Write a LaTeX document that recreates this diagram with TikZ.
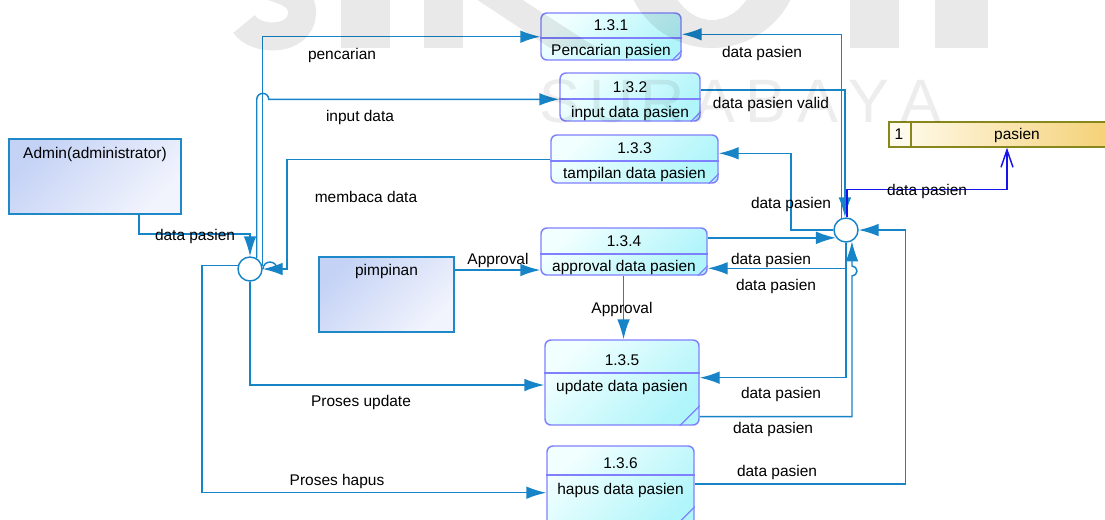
\documentclass[tikz,border=0pt]{standalone}
\usepackage{fontspec}
\setmainfont{Liberation Sans}
\usetikzlibrary{arrows.meta,fit}

\definecolor{flowblue}{RGB}{24,132,200}
\definecolor{dsblue}{RGB}{20,20,235}
\definecolor{procedge}{RGB}{128,128,255}
\definecolor{proctop}{RGB}{242,255,255}
\definecolor{procbot}{RGB}{176,245,250}
\definecolor{entedge}{RGB}{30,136,200}
\definecolor{enttop}{RGB}{196,210,245}
\definecolor{entbot}{RGB}{242,244,253}
\definecolor{storeedge}{RGB}{135,135,30}
\definecolor{storeleft}{RGB}{255,252,240}
\definecolor{storeright}{RGB}{244,206,110}
\definecolor{storecell}{RGB}{254,250,236}

\begin{document}
\begin{tikzpicture}[x=0.75pt,y=-0.75pt,
  font=\fontsize{11.6}{13.9}\selectfont,
  fl/.style={draw=flowblue, line width=1.1pt, -{Latex[length=15pt,width=9.5pt]}},
  flplain/.style={draw=flowblue, line width=1.1pt},
  dsflow/.style={draw=dsblue, line width=1.1pt, -{Straight Barb[length=13pt,width=9pt]}},
  proc/.style={draw=procedge, line width=1.1pt, rounded corners=4.5pt, top color=proctop, bottom color=procbot, shading angle=45, inner sep=0pt},
  ent/.style={draw=entedge, line width=1pt, top color=enttop, bottom color=entbot, shading angle=45, inner sep=0pt},
  junc/.style={circle, draw=flowblue, fill=white, line width=1.1pt, minimum size=18pt, inner sep=0pt},
  txt/.style={inner sep=0pt, text height=8.4pt, text depth=0pt, anchor=center},
  divider/.style={draw=procedge, line width=1.1pt},
  wm/.style={fill=black, fill opacity=0.085},
  wmtext/.style={inner sep=0pt, anchor=base, text=black, text opacity=0.07, font=\fontsize{46}{46}\selectfont}
]
\useasboundingbox (0,0) rectangle (1105,519);
\clip (0,0) rectangle (1105,519);
\fill[white] (0,0) rectangle (1105,519);

% ---------- processes ----------
\node[proc, fit={(541,13) (681,60)}] (p1) {};
\node[proc, fit={(560,73) (700,121)}] (p2) {};
\node[proc, fit={(551,135) (718,183)}] (p3) {};
\node[proc, fit={(541,228) (707,275)}] (p4) {};
\node[proc, fit={(545,340) (699,425)}] (p5) {};
\node[proc, fit={(547,446) (694,530)}] (p6) {};

\draw[divider] (p1.west |- 0,38) -- (p1.east |- 0,38);
\draw[divider] (p2.west |- 0,99) -- (p2.east |- 0,99);
\draw[divider] (p3.west |- 0,161) -- (p3.east |- 0,161);
\draw[divider] (p4.west |- 0,254) -- (p4.east |- 0,254);
\draw[divider] (p5.west |- 0,373) -- (p5.east |- 0,373);
\draw[divider] (p6.west |- 0,475) -- (p6.east |- 0,475);

% corner marks
\draw[divider, line width=0.9pt] (p1.south east) ++(-10,0) -- ++(10,-10);
\draw[divider, line width=0.9pt] (p2.south east) ++(-10,0) -- ++(10,-10);
\draw[divider, line width=0.9pt] (p3.south east) ++(-10,0) -- ++(10,-10);
\draw[divider, line width=0.9pt] (p4.south east) ++(-10,0) -- ++(10,-10);
\draw[divider, line width=0.9pt] (p5.south east) ++(-20,0) -- ++(20,-20);
\draw[divider, line width=0.9pt] (p6.south east) ++(-24,0) -- ++(24,-24);

\node[txt] (n1) at (p1.north |- 0,25) {1.3.1};
\node[txt] (d1) at (p1.north |- 0,50) {Pencarian pasien};
\node[txt] (n2) at (p2.north |- 0,87) {1.3.2};
\node[txt] (d2) at (p2.north |- 0,111.5) {input data pasien};
\node[txt] (n3) at (p3.north |- 0,148) {1.3.3};
\node[txt] (d3) at (p3.north |- 0,173) {tampilan data pasien};
\node[txt] (n4) at (p4.north |- 0,241) {1.3.4};
\node[txt] (d4) at (p4.north |- 0,266) {approval data pasien};
\node[txt] (n5) at (p5.north |- 0,360) {1.3.5};
\node[txt] (d5) at (p5.north |- 0,386) {update data pasien};
\node[txt] (n6) at (p6.north |- 0,463) {1.3.6};
\node[txt] (d6) at (p6.north |- 0,489) {hapus data pasien};

% ---------- external entities ----------
\node[ent, fit={(9,139) (181,214)}] (admin) {};
\node[txt] (tadmin) at (admin.north |- 0,153) {Admin(administrator)};
\node[ent, fit={(319,257) (454,332)}] (pim) {};
\node[txt] (tpim) at (pim.north |- 0,270) {pimpinan};

% ---------- data store ----------
\node[draw=storeedge, line width=1.1pt, left color=storeleft, right color=storeright, inner sep=0pt, fit={(889,122) (1125,147)}] (store) {};
\node[draw=storeedge, line width=1.1pt, fill=storecell, inner sep=0pt, fit={(889,122) (911,147)}] (storeid) {};
\node[txt] (tstoreid) at (899,134) {1};
\node[txt] (tstore) at (1017,134) {pasien};

% ---------- junctions ----------
\node[junc] (j1) at (250,269) {};
\node[junc] (j2) at (846,230) {};

% ---------- flows around the left junction ----------
\draw[fl] (admin.south -| 139,0) |- (j1.north |- 0,234) -- (j1.north);
\draw[fl] (j1.15) |- (p1.west |- 0,36.7);
\draw[fl] (j1.58) -- (j1.58 |- 0,99.3) arc[start angle=180, end angle=0, radius=4.5pt] -- (p2.west |- 0,99.3);
\draw[fl] (p3.west |- 0,159.3) -| (287,269) -- (j1.east);
\draw[flplain] (277,269) arc[start angle=0, end angle=180, radius=5.25pt];
\draw[fl] (j1.south) |- (p5.west |- 0,385);
\draw[fl] (j1.164) -| (202,492.7) -- (p6.west |- 0,492.7);

% ---------- pimpinan and approval ----------
\draw[fl] (pim.east |- 0,270) -- (p4.west |- 0,270);
\draw[fl] (p4.south -| 623.5,0) -- (p5.north -| 623.5,0);

% ---------- flows around the right junction ----------
\draw[fl] (p4.east |- j2.218) -- (j2.218);
\draw[fl] (j2.west) -| (791,153.3) -- (p3.east |- 0,153.3);
\draw[fl] (j2.110) |- (p1.east |- 0,34.3);
\draw[fl] (p2.east |- 0,90) -| (j2.95);
\draw[dsflow] (j2.85) |- (1007,189.3) -- (store.south -| 1007,0);
\draw[fl] (j2.south) |- (p4.east |- 0,268.3);
\draw[fl] (j2.south) |- (p5.east |- 0,377.7);
\draw[fl] (p5.east |- 0,416.7) -- (j2.-62 |- 0,416.7) -- (j2.-62 |- 0,276) arc[start angle=-90, end angle=90, radius=3.75pt] -- (j2.-62);
\draw[fl] (p6.east |- 0,484) -| (905.3,230) -- (j2.east);

% ---------- flow labels ----------
\node[txt] (lpencarian) at (342,54) {pencarian};
\node[txt] (linput) at (360,116) {input data};
\node[txt] (lbaca) at (366,197) {membaca data};
\node[txt] (ladmin) at (195,235) {data pasien};
\node[txt] (lappr1) at (498,259) {Approval};
\node[txt] (lappr2) at (622,308) {Approval};
\node[txt] (lupdate) at (361,401) {Proses update};
\node[txt] (lhapus) at (337,480) {Proses hapus};
\node[txt] (lp1) at (762,52) {data pasien};
\node[txt] (lp2) at (771,103) {data pasien valid};
\node[txt] (lp3) at (791,203) {data pasien};
\node[txt] (lstore) at (927,190) {data pasien};
\node[txt] (lp4a) at (771,259) {data pasien};
\node[txt] (lp4b) at (776,285) {data pasien};
\node[txt] (lp5a) at (781,393) {data pasien};
\node[txt] (lp5b) at (773,428) {data pasien};
\node[txt] (lp6) at (777,471) {data pasien};

% ---------- faint background lettering ----------
\draw[draw=black, draw opacity=0.085, line width=21pt] (244,24) .. controls (256,42) and (300,42) .. (302,14) .. controls (303,-2) and (290,-8) .. (270,-14);
\fill[wm] (341,-5) rectangle (390,48);
\fill[wm] (424,-5) rectangle (463,48);
\fill[wm] (470,-5) -- (515,-5) -- (597,48) -- (550,48) -- cycle;
\fill[wm, even odd rule] (712,-40) ellipse [x radius=88, y radius=88] (712,-40) ellipse [x radius=46, y radius=60];
\fill[wm] (850,-5) rectangle (899,48);
\fill[wm] (935,-5) rectangle (988,48);
\node[wmtext] (w1) at (560,122) {S};
\node[wmtext] (w2) at (611.5,122) {U};
\node[wmtext] (w3) at (663,122) {R};
\node[wmtext] (w4) at (714.5,122) {A};
\node[wmtext] (w5) at (766,122) {B};
\node[wmtext] (w6) at (817.5,122) {A};
\node[wmtext] (w7) at (869,122) {Y};
\node[wmtext] (w8) at (920.5,122) {A};
\end{tikzpicture}
\end{document}
